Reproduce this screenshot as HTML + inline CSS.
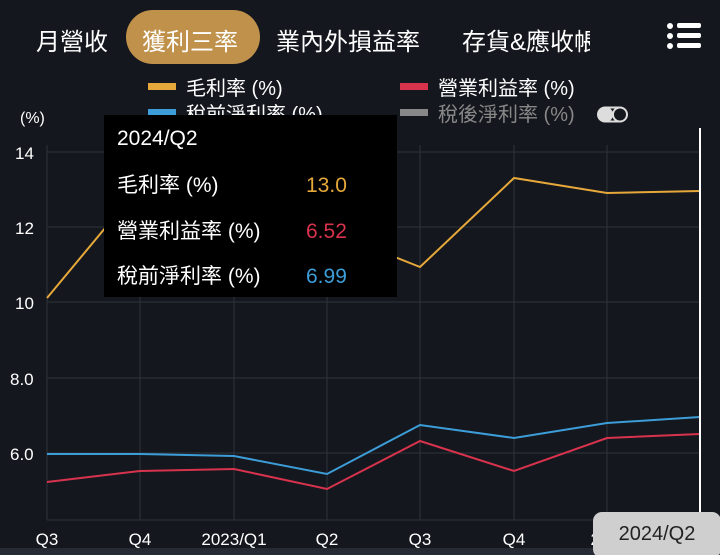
<!DOCTYPE html><html><head><meta charset="utf-8"><style>
body{margin:0;width:720px;height:555px;background:#14171d;overflow:hidden;font-family:"Liberation Sans","Noto Sans CJK TC",sans-serif;color:#fff;position:relative}
.t{position:absolute;font-size:24px;top:22px}
</style></head><body>
<div style="position:absolute;left:126px;top:10px;width:134px;height:54px;border-radius:27px;background:#c0914a"></div>
<div class="t" style="left:36px">月營收</div>
<div class="t" style="left:142px">獲利三率</div>
<div class="t" style="left:276px">業內外損益率</div>
<div class="t" style="left:462px;width:128px;overflow:hidden;white-space:nowrap">存貨&amp;應收帳</div>
<svg width="720" height="555" style="position:absolute;left:0;top:0">
<g fill="#fff"><circle cx="670" cy="26" r="3"/><circle cx="670" cy="36" r="3"/><circle cx="670" cy="46" r="3"/>
<rect x="677" y="23" width="24" height="5" rx="2"/><rect x="677" y="33" width="24" height="5" rx="2"/><rect x="677" y="43" width="24" height="5" rx="2"/></g>
<rect x="148" y="83" width="28" height="7" fill="#e6a83a"/><rect x="400" y="83" width="28" height="7" fill="#d7334d"/>
<rect x="148" y="109" width="28" height="7" fill="#3d9dd8"/><rect x="400" y="109" width="28" height="7" fill="#888"/>
<g font-size="20" fill="#fff"><text x="186" y="95">毛利率 (%)</text><text x="438" y="95">營業利益率 (%)</text><text x="186" y="121">稅前淨利率 (%)</text></g>
<text x="438" y="121" font-size="20" fill="#888">稅後淨利率 (%)</text>
<circle cx="605" cy="114.5" r="8" fill="#ddd"/><circle cx="620" cy="114.5" r="7" fill="none" stroke="#ddd" stroke-width="2"/><rect x="605" y="106.5" width="15" height="2" fill="#ddd"/><rect x="605" y="120.5" width="15" height="2" fill="#ddd"/>
<text x="20" y="123" font-size="16" fill="#fff">(%)</text>
<g stroke="#2e333b" stroke-width="1">
<line x1="47" y1="152" x2="700" y2="152"/><line x1="47" y1="227" x2="700" y2="227"/><line x1="47" y1="302" x2="700" y2="302"/><line x1="47" y1="378" x2="700" y2="378"/><line x1="47" y1="453" x2="700" y2="453"/><line x1="47" y1="520" x2="700" y2="520"/>
<line x1="47" y1="145" x2="47" y2="520"/><line x1="140" y1="145" x2="140" y2="520"/><line x1="234" y1="145" x2="234" y2="520"/><line x1="327" y1="145" x2="327" y2="520"/><line x1="420" y1="145" x2="420" y2="520"/><line x1="514" y1="145" x2="514" y2="520"/><line x1="607" y1="145" x2="607" y2="520"/></g>
<g font-size="17" fill="#fff"><text x="15" y="159">14</text><text x="15" y="234">12</text><text x="15" y="309">10</text><text x="10" y="385">8.0</text><text x="10" y="460">6.0</text></g>
<g fill="none" stroke-width="2">
<polyline stroke="#e6a83a" points="47,298 140,186 234,265 327,230 420,267 514,178 607,193 700,191"/>
<polyline stroke="#3d9dd8" points="47,454 140,454 234,456 327,474 420,425 514,438 607,423 700,417"/>
<polyline stroke="#d7334d" points="47,482 140,471 234,469 327,489 420,441 514,471 607,438 700,434"/>
</g>
<line x1="700" y1="128" x2="700" y2="520" stroke="#fff" stroke-width="2"/>
<rect x="104" y="115" width="293" height="182" fill="#000"/>
<g font-size="21"><text x="117" y="145" fill="#fff">2024/Q2</text>
<text x="117" y="192" fill="#fff">毛利率 (%)</text><text x="306" y="192" fill="#e6a83a">13.0</text>
<text x="117" y="238" fill="#fff">營業利益率 (%)</text><text x="306" y="238" fill="#d7334d">6.52</text>
<text x="117" y="283" fill="#fff">稅前淨利率 (%)</text><text x="306" y="283" fill="#3d9dd8">6.99</text></g>
<rect x="0" y="548" width="720" height="7" fill="#262b33"/>
<g font-size="17" fill="#fff" text-anchor="middle"><text x="47" y="545">Q3</text><text x="140" y="545">Q4</text><text x="234" y="545">2023/Q1</text><text x="327" y="545">Q2</text><text x="420" y="545">Q3</text><text x="514" y="545">Q4</text><text x="600" y="545">20</text></g>
<rect x="593" y="512" width="128" height="46" rx="9" fill="#cfcfcf"/>
<text x="657" y="540" font-size="20" fill="#222" text-anchor="middle">2024/Q2</text>
</svg>
</body></html>
